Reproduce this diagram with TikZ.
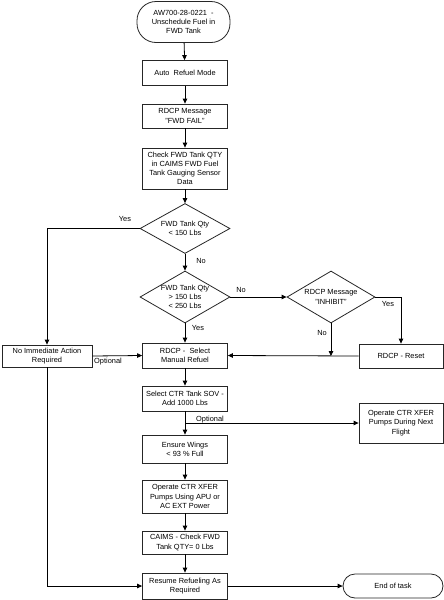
\documentclass[tikz,border=0pt]{standalone}
\usepackage{fontspec}
\setmainfont{Liberation Sans}
\usetikzlibrary{shapes.geometric,arrows.meta}
\tikzset{
  every node/.style={font=\fontsize{7.4}{9.2}\selectfont, align=center},
  stepbox/.style={draw=black!85, line width=0.8pt, fill=white, inner sep=0pt, minimum width=85pt},
  termbox/.style={draw=black!85, line width=0.8pt, fill=white, inner sep=0pt, rounded corners=12pt},
  decbox/.style={draw=black!85, line width=0.8pt, shape=diamond, inner xsep=-12pt, inner ysep=-7pt},
  lbl/.style={font=\fontsize{7.4}{9.2}\selectfont, inner sep=0pt},
  conn/.style={line width=0.8pt, -{Triangle[length=5pt,width=4.5pt]}},
  plain/.style={line width=0.8pt}
}
\begin{document}
\begin{tikzpicture}[x=1pt,y=-1pt]
\useasboundingbox (0,0) rectangle (444,600);
\node[termbox, minimum width=93pt, minimum height=41pt, rounded corners=19pt] (start) at (183.5,22) {AW700-28-0221~ -\\Unschedule Fuel in\\FWD Tank};
\node[stepbox, minimum height=25pt] (auto) at (185,73) {Auto~ Refuel Mode};
\node[stepbox, minimum height=24pt] (msg) at (185,116) {RDCP Message\\"FWD FAIL"};
\node[stepbox, minimum height=41pt] (check) at (185,168.5) {Check FWD Tank QTY\\in CAIMS FWD Fuel\\Tank Gauging Sensor\\Data};
\node[decbox, minimum width=90pt, minimum height=50pt] (d1) at (185,228.5) {FWD Tank Qty\\< 150 Lbs};
\node[decbox, minimum width=90pt, minimum height=52pt] (d2) at (185,297) {FWD Tank Qty\\> 150 Lbs\\< 250 Lbs};
\node[decbox, minimum width=88pt, minimum height=52pt] (d3) at (331,297) {RDCP Message\\"INHIBIT"};
\node[stepbox, minimum height=25pt] (select) at (185,355.5) {RDCP -~ Select\\Manual Refuel};
\node[stepbox, minimum width=90pt, minimum height=22pt] (noimm) at (47,356) {No Immediate Action\\Required};
\node[stepbox, minimum width=84pt, minimum height=24pt] (reset) at (401,356) {RDCP - Reset};
\node[stepbox, minimum height=25pt] (selctr) at (185,398.5) {Select CTR Tank SOV -\\Add 1000 Lbs};
\node[stepbox, minimum width=84pt, minimum height=40pt] (next) at (401,423) {Operate CTR XFER\\Pumps During Next\\Flight};
\node[stepbox, minimum height=28pt] (wings) at (185,449) {Ensure Wings\\< 93 \% Full};
\node[stepbox, minimum height=33pt] (apu) at (185,496.5) {Operate CTR XFER\\Pumps Using APU or\\AC EXT Power};
\node[stepbox, minimum height=23pt] (caims) at (185,542.5) {CAIMS - Check FWD\\Tank QTY= 0 Lbs};
\node[stepbox, minimum height=26pt] (resume) at (185,586) {Resume Refueling As\\Required};
\node[termbox, minimum width=100pt, minimum height=24pt] (end) at (393,586) {End of task};

\coordinate (m) at (d3.south |- reset.west);
\coordinate (b) at (selctr.south |- next.west);

\draw[conn] (start) -- (auto);
\draw[conn] (auto) -- (msg);
\draw[conn] (msg) -- (check);
\draw[conn] (check) -- (d1);
\draw[conn] (d1.west) -| (noimm.north);
\draw[conn] (d1.south) -- (d2.north);
\draw[conn] (d2.east) -- (d3.west);
\draw[conn] (d2.south) -- (select.north);
\draw[conn] (d3.east) -| (reset.north);
\draw[conn] (d3.south) -- (m);
\draw[conn] (reset.west) -- (select.east);
\draw[conn] (noimm.east) -- (select.west);
\draw[conn] (noimm.south) |- (resume.west);
\draw[conn] (select) -- (selctr);
\draw[conn] (selctr) -- (wings);
\draw[conn] (b) -- (next.west);
\draw[conn] (wings) -- (apu);
\draw[conn] (apu) -- (caims);
\draw[conn] (caims) -- (resume);
\draw[conn] (resume) -- (end);

\node[lbl] (l1) at (125,219) {Yes};
\node[lbl] (l2) at (201,261) {No};
\node[lbl] (l3) at (241,290) {No};
\node[lbl] (l4) at (198,328) {Yes};
\node[lbl] (l5) at (388,304) {Yes};
\node[lbl] (l6) at (322,333) {No};
\node[lbl] (l7) at (108,362) {Optional};
\node[lbl] (l8) at (210,420) {Optional};
\end{tikzpicture}
\end{document}
